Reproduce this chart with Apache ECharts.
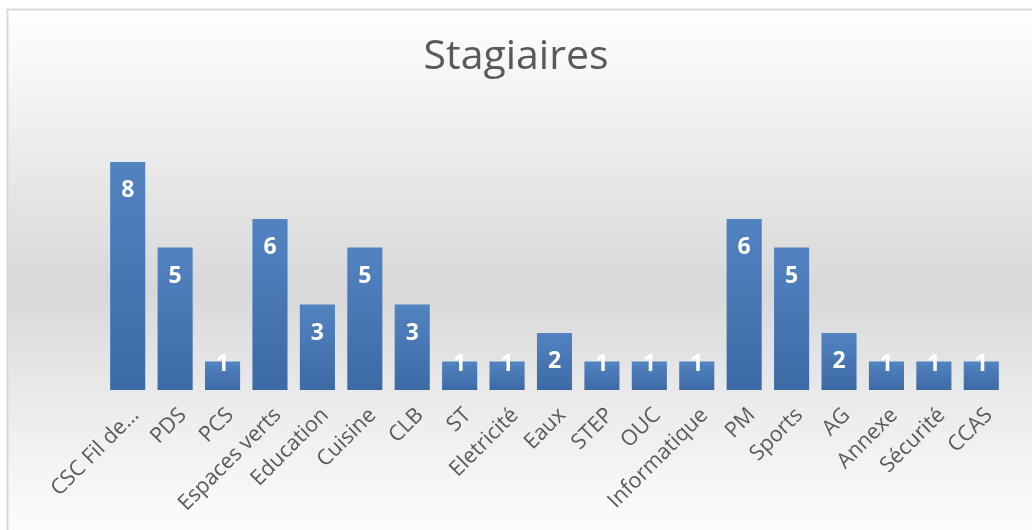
<!DOCTYPE html>
<html>
<head>
<meta charset="utf-8">
<script src="https://cdn.jsdelivr.net/npm/echarts@6/dist/echarts.min.js"></script>
<style>
  html, body { margin: 0; padding: 0; background: #fff; }
  #chart { width: 1032px; height: 530px; }
</style>
</head>
<body>
<div id="chart"></div>
<script>
var titleText = 'Stagiaires';
var categories = ['CSC Fil de…', 'PDS', 'PCS', 'Espaces verts', 'Education', 'Cuisine', 'CLB', 'ST',
  'Eletricité', 'Eaux', 'STEP', 'OUC', 'Informatique', 'PM', 'Sports', 'AG', 'Annexe', 'Sécurité', 'CCAS'];
var stagiaires = [8, 5, 1, 6, 3, 5, 3, 1, 1, 2, 1, 1, 1, 6, 5, 2, 1, 1, 1];

var myChart = echarts.init(document.getElementById('chart'));

// short bars: label sits higher (excel puts it at the top edge)
var data = [];
for (var i = 0; i < stagiaires.length; i++) {
  var item = { value: stagiaires[i] };
  if (stagiaires[i] < 2) {
    item.label = { distance: -9 };
  }
  data.push(item);
}

var option = {
  graphic: [{
    type: 'rect',
    z: -10,
    silent: true,
    shape: { x: 7.5, y: 9.5, width: 1030, height: 525 },
    style: {
      stroke: '#d9d9d9',
      lineWidth: 2,
      fill: new echarts.graphic.LinearGradient(0, 0, 0, 1, [
        { offset: 0, color: '#ffffff' },
        { offset: 0.17, color: '#f3f3f3' },
        { offset: 0.53, color: '#d8d8d8' },
        { offset: 0.75, color: '#ebebeb' },
        { offset: 1, color: '#fdfdfd' }
      ])
    }
  }],
  title: {
    text: titleText,
    left: 'center',
    top: 32,
    textStyle: {
      fontFamily: 'Open Sans',
      fontWeight: 'normal',
      fontSize: 41,
      color: '#595959'
    }
  },
  grid: {
    left: 104,
    right: 27,
    top: 133.5,
    bottom: 140
  },
  xAxis: {
    type: 'category',
    data: categories,
    axisLine: { show: false },
    axisTick: { show: false },
    axisLabel: {
      interval: 0,
      rotate: 45,
      margin: 14,
      verticalAlign: 'top',
      fontFamily: 'Open Sans',
      fontSize: 21.5,
      color: '#595959'
    }
  },
  yAxis: {
    type: 'value',
    min: 0,
    max: 9,
    show: false
  },
  series: [{
    name: titleText,
    type: 'bar',
    data: data,
    barCategoryGap: '26%',
    itemStyle: {
      color: new echarts.graphic.LinearGradient(0, 0, 0, 1, [
        { offset: 0, color: '#5283c1' },
        { offset: 1, color: '#3c6aa5' }
      ])
    },
    label: {
      show: true,
      position: 'insideTop',
      distance: 17,
      fontFamily: 'Open Sans',
      fontWeight: 'bold',
      fontSize: 23,
      color: '#ffffff'
    }
  }]
};

myChart.setOption(option);
</script>
</body>
</html>
